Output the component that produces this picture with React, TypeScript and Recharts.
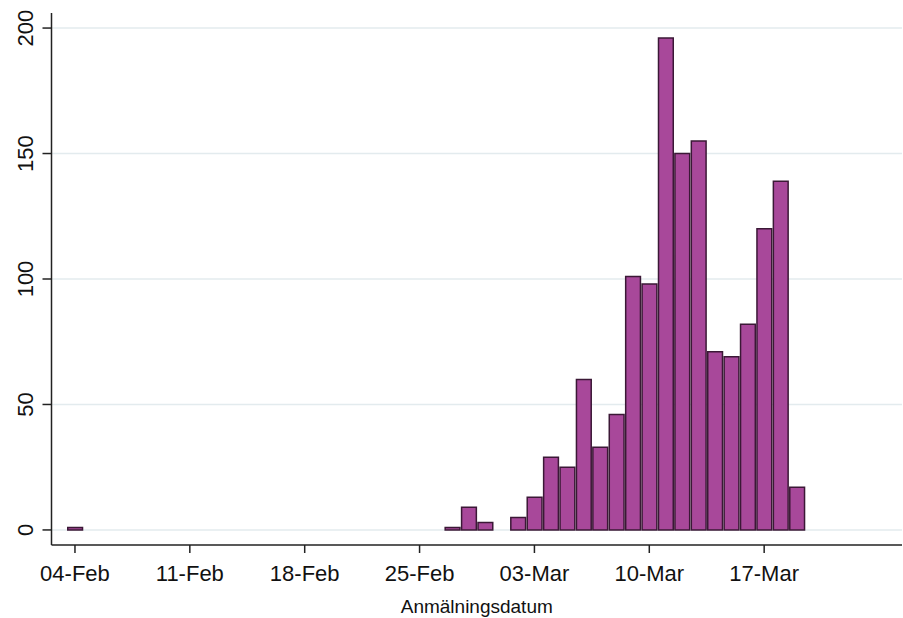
import React from 'react';
import { BarChart, Bar, XAxis, YAxis, CartesianGrid } from 'recharts';

// day index counted from 04-Feb-2020
const days = [0, 23, 24, 25, 27, 28, 29, 30, 31, 32, 33, 34, 35, 36, 37, 38, 39, 40, 41, 42, 43, 44];
const counts = [1, 1, 9, 3, 5, 13, 29, 25, 60, 33, 46, 101, 98, 196, 150, 155, 71, 69, 82, 120, 139, 17];

const xTickDays = [0, 7, 14, 21, 28, 35, 42];
const xTickLabels = ['04-Feb', '11-Feb', '18-Feb', '25-Feb', '03-Mar', '10-Mar', '17-Mar'];
const yTicks = [0, 50, 100, 150, 200];

const data = days.map((d, i) => ({ day: d, count: counts[i] }));

const FONT = '"Liberation Sans", Arial, Helvetica, sans-serif';

const XTick = (props: any) => {
  const { x, y, payload } = props;
  const idx = xTickDays.indexOf(payload.value);
  return (
    <text x={x} y={y + 26} textAnchor="middle" fontFamily={FONT} fontSize={22} fill="#111">
      {idx >= 0 ? xTickLabels[idx] : ''}
    </text>
  );
};

const YTick = (props: any) => {
  const { y, payload } = props;
  const tx = 33;
  return (
    <text x={tx} y={y} textAnchor="middle" fontFamily={FONT} fontSize={22} fill="#111" transform={`rotate(-90, ${tx}, ${y})`}>
      {payload.value}
    </text>
  );
};

export default function App() {
  return (
    <div style={{ position: 'absolute', left: 0, top: 0, background: '#fff' }}>
      <BarChart width={903} height={618} data={data} margin={{ top: 13, right: 1, left: 0, bottom: 0 }} barCategoryGap={0}>
        <CartesianGrid vertical={false} stroke="#e3ebee" strokeWidth={1.5} horizontalValues={yTicks} />
        <XAxis
          dataKey="day"
          type="number"
          domain={[-1.43, 50.4]}
          ticks={xTickDays}
          allowDataOverflow
          height={73}
          tickSize={8}
          tickMargin={2}
          stroke="#222"
          strokeWidth={1.5}
          tick={<XTick />}
          interval={0}
          label={{
            content: (p: any) => {
              const vb = p.viewBox;
              return (
                <text x={vb.x + vb.width / 2} y={vb.y + 68} textAnchor="middle" fontFamily={FONT} fontSize={19} fill="#111">
                  Anmälningsdatum
                </text>
              );
            },
          }}
        />
        <YAxis
          type="number"
          domain={[-6, 206]}
          ticks={yTicks}
          allowDataOverflow
          width={51.5}
          tickSize={9}
          stroke="#222"
          strokeWidth={1.5}
          tick={<YTick />}
          interval={0}
        />
        <Bar dataKey="count" fill="#a8489a" stroke="#3b1836" strokeWidth={1.5} barSize={16.41} isAnimationActive={false} />
      </BarChart>
    </div>
  );
}
